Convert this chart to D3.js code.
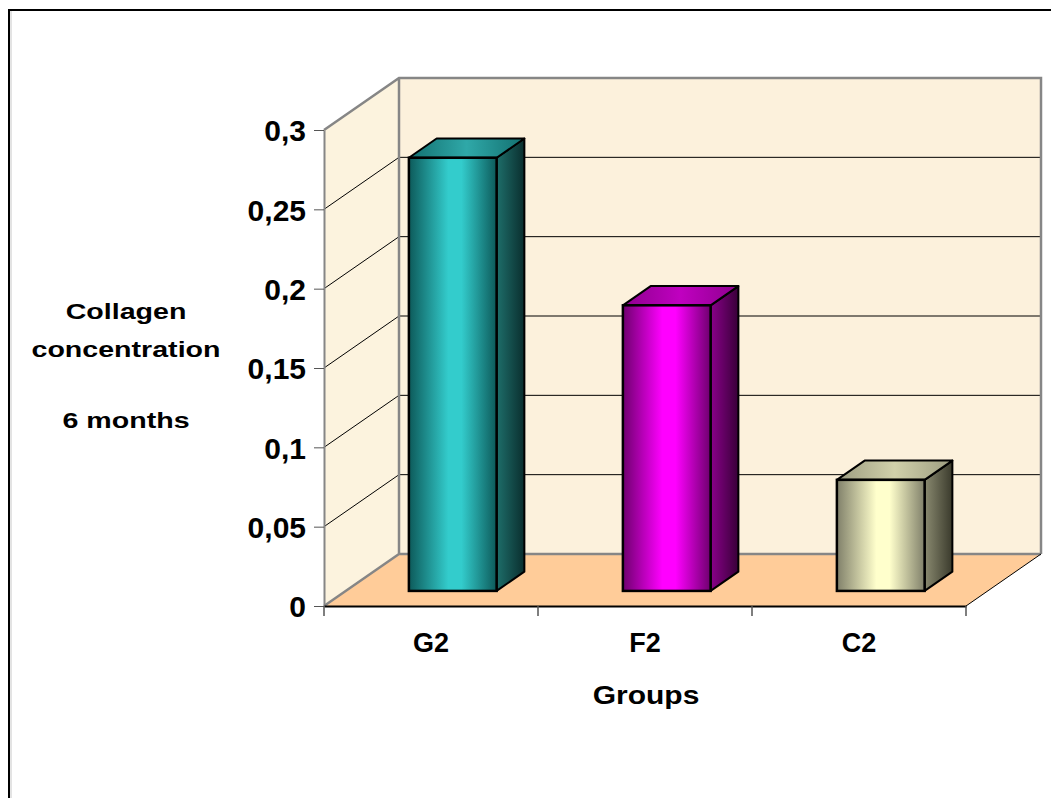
<!DOCTYPE html>
<html>
<head>
<meta charset="utf-8">
<script src="https://cdn.jsdelivr.net/npm/d3@7"></script>
<style>
  body { margin: 0; background: #fff; }
  text { font-family: Arial, "Liberation Sans", sans-serif; font-weight: bold; fill: #000; }
</style>
</head>
<body>
<div id="chart"></div>
<script>
// data
var categories = ["G2", "F2", "C2"];
var values = [0.273, 0.180, 0.070];
var yTicks = [0, 0.05, 0.1, 0.15, 0.2, 0.25, 0.3];
var yTitle = ["Collagen", "concentration", "6 months"];
var xTitle = "Groups";

var width = 1051, height = 798;
// 3d depth offset of the plot box
var DX = 75, DY = 52;
var d0 = 0.29, d1 = 0.66;   // bar depth position (fraction of depth)

var svg = d3.select("#chart").append("svg")
  .attr("width", width).attr("height", height);

// outer frame
svg.append("rect")
  .attr("x", 9).attr("y", 10).attr("width", 1100).attr("height", 1000)
  .attr("fill", "#fff").attr("stroke", "#000").attr("stroke-width", 2);
svg.append("line").attr("x1", 11).attr("x2", 11).attr("y1", 11).attr("y2", height)
  .attr("stroke", "#c8c8c8").attr("stroke-width", 1);

var x = d3.scaleBand().domain(categories).range([324, 966]);
var xb = d3.scaleBand().domain(categories).range([324, 966]).paddingInner(0.59).paddingOuter(0.295);
var y = d3.scaleLinear().domain([0, 0.3]).range([606, 130]);

var y0 = y(0), yTop = y(0.3), xL = x.range()[0], xR = x.range()[1];

var defs = svg.append("defs");

// walls
svg.append("polygon")
  .attr("points", [[xL + DX, yTop - DY], [xR + DX, yTop - DY], [xR + DX, y0 - DY], [xL + DX, y0 - DY]].join(" "))
  .attr("fill", "#fcf1dc");
svg.append("polygon")
  .attr("points", [[xL, yTop], [xL + DX, yTop - DY], [xL + DX, y0 - DY], [xL, y0]].join(" "))
  .attr("fill", "#fcf3de");
svg.append("polygon")
  .attr("points", [[xL, y0], [xR, y0], [xR + DX, y0 - DY], [xL + DX, y0 - DY]].join(" "))
  .attr("fill", "#ffcc99");

// gridlines (back + side wall)
var grid = yTicks.filter(function(t) { return t > 0 && t < 0.3; });
svg.selectAll(".gback").data(grid).enter().append("line")
  .attr("x1", xL + DX).attr("x2", xR + DX)
  .attr("y1", function(d) { return y(d) - DY; }).attr("y2", function(d) { return y(d) - DY; })
  .attr("stroke", "#000").attr("stroke-width", 1);
svg.selectAll(".gside").data(grid).enter().append("line")
  .attr("x1", xL).attr("x2", xL + DX)
  .attr("y1", function(d) { return y(d); }).attr("y2", function(d) { return y(d) - DY; })
  .attr("stroke", "#000").attr("stroke-width", 1);

// wall borders
svg.append("path")
  .attr("d", "M" + xL + "," + yTop + "L" + (xL + DX) + "," + (yTop - DY) + "L" + (xR + DX) + "," + (yTop - DY) +
             "L" + (xR + DX) + "," + (y0 - DY) + "M" + (xL + DX) + "," + (yTop - DY) + "L" + (xL + DX) + "," + (y0 - DY) +
             "L" + (xR + DX) + "," + (y0 - DY) + "M" + xL + "," + y0 + "L" + (xL + DX) + "," + (y0 - DY))
  .attr("fill", "none").attr("stroke", "#868686").attr("stroke-width", 2.5);
svg.append("path")
  .attr("d", "M" + xR + "," + y0 + "L" + (xR + DX) + "," + (y0 - DY))
  .attr("fill", "none").attr("stroke", "#000").attr("stroke-width", 1);

// bar colours: [edge, centre, sideLight, sideDark, topA, topB]
var palettes = [
  ["#0d5a5a", "#33cccc", "#1e6e6a", "#0a2e2e", "#137070", "#2fa8a8"],
  ["#6e006e", "#ff00ff", "#8a008a", "#380038", "#8e008e", "#c000c0"],
  ["#80806a", "#ffffcc", "#8a8a70", "#3a3a2c", "#9c9c80", "#d0d0aa"]
];

function grad(id, stops) {
  var g = defs.append("linearGradient").attr("id", id).attr("x1", 0).attr("x2", 1).attr("y1", 0).attr("y2", 0);
  stops.forEach(function(s) { g.append("stop").attr("offset", s[0]).attr("stop-color", s[1]); });
}
palettes.forEach(function(p, i) {
  grad("front" + i, [[0, p[0]], [0.45, p[1]], [0.6, p[1]], [1, p[0]]]);
  grad("side" + i, [[0, p[2]], [1, p[3]]]);
  grad("top" + i, [[0, p[4]], [0.5, p[5]], [1, p[4]]]);
});

var bw = xb.bandwidth();
var ox = d0 * DX, oy = d0 * DY, ddx = (d1 - d0) * DX, ddy = (d1 - d0) * DY;

var bars = svg.selectAll(".bar").data(values).enter().append("g");
bars.each(function(v, i) {
  var g = d3.select(this);
  var bx = xb(categories[i]) + ox, tY = y(v) - oy, bY = y0 - oy;
  g.append("polygon")
    .attr("points", [[bx + bw, tY], [bx + bw + ddx, tY - ddy], [bx + bw + ddx, bY - ddy], [bx + bw, bY]].join(" "))
    .attr("fill", "url(#side" + i + ")").attr("stroke", "#000").attr("stroke-width", 2).attr("stroke-linejoin", "round");
  g.append("polygon")
    .attr("points", [[bx, tY], [bx + ddx, tY - ddy], [bx + bw + ddx, tY - ddy], [bx + bw, tY]].join(" "))
    .attr("fill", "url(#top" + i + ")").attr("stroke", "#000").attr("stroke-width", 2).attr("stroke-linejoin", "round");
  g.append("rect")
    .attr("x", bx).attr("y", tY).attr("width", bw).attr("height", bY - tY)
    .attr("fill", "url(#front" + i + ")").attr("stroke", "#000").attr("stroke-width", 2.5);
});

// y axis
var fmt = d3.formatLocale({decimal: ",", thousands: ".", grouping: [3], currency: ["", ""]}).format("");
var yAxis = svg.append("g")
  .attr("transform", "translate(" + xL + ",0)")
  .call(d3.axisLeft(y).tickValues(yTicks).tickFormat(fmt).tickSize(10).tickSizeOuter(0).tickPadding(8));
yAxis.select(".domain").attr("stroke", "#868686").attr("stroke-width", 2);
yAxis.selectAll(".tick line").attr("stroke", "#555");
yAxis.selectAll("text").attr("font-size", 30).attr("dy", "0.36em").attr("font-family", null);

// x axis: labels at band centres, ticks at band boundaries
var xAxis = svg.append("g")
  .attr("transform", "translate(0," + y0 + ")")
  .call(d3.axisBottom(x).tickSize(0).tickPadding(27));
xAxis.select(".domain").attr("stroke", "#000").attr("stroke-width", 2);
xAxis.selectAll("text").attr("font-size", 27).attr("font-family", null);
var bounds = categories.map(function(c) { return x(c); }).concat([xR]);
svg.selectAll(".xtick").data(bounds).enter().append("line")
  .attr("x1", function(d) { return d; }).attr("x2", function(d) { return d; })
  .attr("y1", y0).attr("y2", y0 + 10)
  .attr("stroke", "#555").attr("stroke-width", 1.5);

// titles
var yT = svg.append("g");
var yBase = [319, 357, 428];
yTitle.forEach(function(t, i) {
  yT.append("text")
    .attr("transform", "translate(126," + yBase[i] + ") scale(1.3,1)")
    .attr("text-anchor", "middle").attr("font-size", 22).text(t);
});
svg.append("text")
  .attr("transform", "translate(646,704) scale(1.2,1)")
  .attr("text-anchor", "middle").attr("font-size", 25).text(xTitle);
</script>
</body>
</html>
